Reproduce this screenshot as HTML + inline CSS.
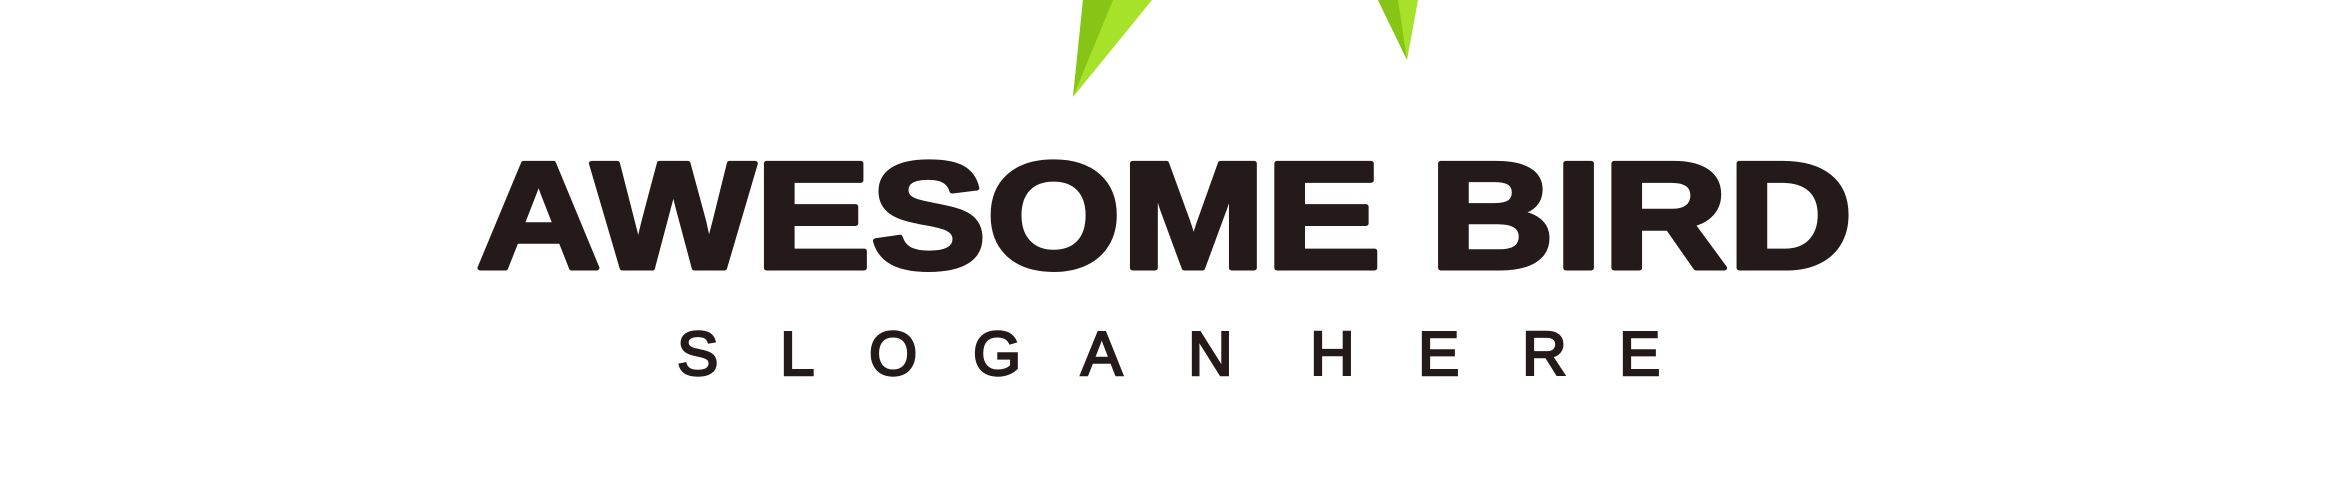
<!DOCTYPE html>
<html><head><meta charset="utf-8"><style>
html,body{margin:0;padding:0;background:#fff;width:2328px;height:483px;overflow:hidden}
svg{display:block;position:absolute;left:0;top:0}
</style></head><body>
<svg width="2328" height="483" viewBox="0 0 2328 483" xmlns="http://www.w3.org/2000/svg">
 <g>
  <polygon points="1083,0 1152,0 1073,97" fill="#a6e22a"/>
  <polygon points="1083,0 1113,0 1073,97" fill="#86c515"/>
 </g>
 <g>
  <polygon points="1378,0 1418,0 1407,60" fill="#a6e22a"/>
  <polygon points="1378,0 1398,0 1407,60" fill="#86c515"/>
 </g>
 <text x="476" y="268" textLength="1377" lengthAdjust="spacingAndGlyphs" style="font-family:'Liberation Sans',Arial,sans-serif;font-weight:bold;font-size:152px" fill="#231a19" stroke="#231a19" stroke-width="5" stroke-linejoin="round">AWESOME BIRD</text>
 <text y="375" x="677 780 869 973 1081 1188 1310 1418 1522 1619" style="font-family:'Liberation Sans',Arial,sans-serif;font-size:62px" fill="#231a19" stroke="#231a19" stroke-width="2.5">SLOGANHERE</text>
</svg>
</body></html>
